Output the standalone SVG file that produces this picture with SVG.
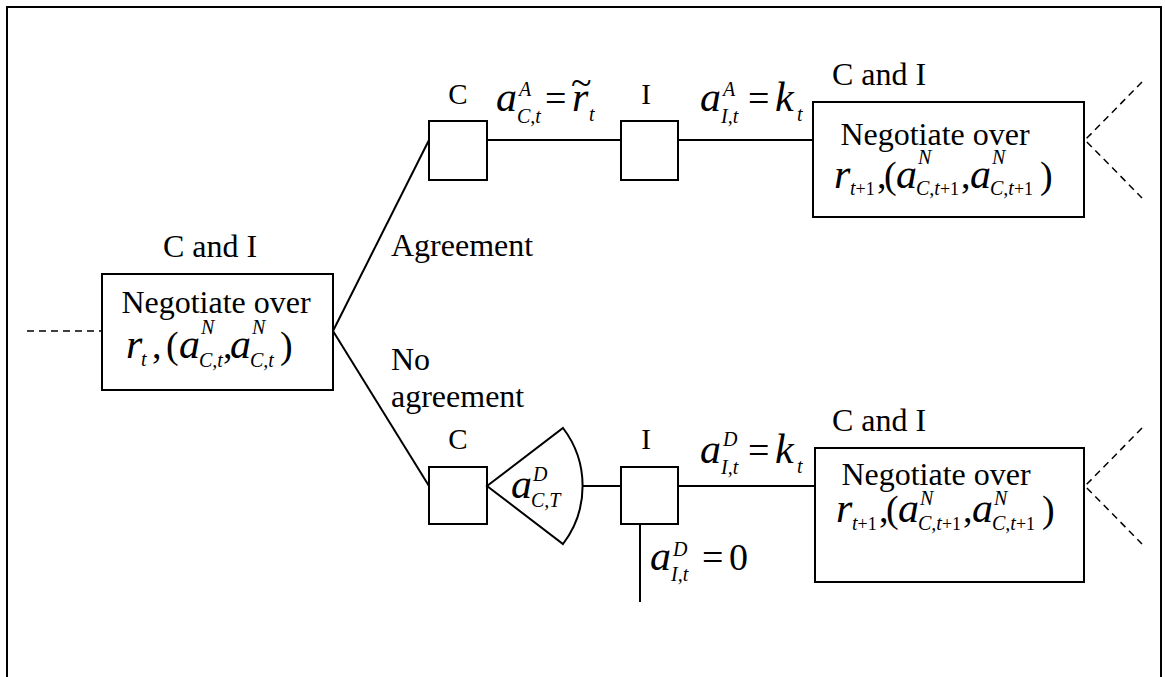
<svg xmlns="http://www.w3.org/2000/svg" width="1165" height="677" viewBox="0 0 1165 677">
<style>
.ln{stroke:#000;stroke-width:2;fill:none}
.bx{stroke:#000;stroke-width:2;fill:#fff}
.ds{stroke:#000;stroke-width:1.5;fill:none;stroke-dasharray:7 5}
text{font-family:"Liberation Serif","Times New Roman",serif;fill:#000}
.t{font-size:32px}
.lb{font-size:29px}
.m{font-size:42px;font-style:italic}
.mu{font-size:38px}
.s{font-size:20px;font-style:italic}
.su{font-size:18px}
</style>
<rect x="0" y="0" width="1165" height="677" fill="#fff"/>
<path class="ln" d="M7,677 V7 H1161 V677"/>

<g id="connectors">
<line class="ds" x1="27" y1="331" x2="102" y2="331"/>
<line class="ln" x1="333" y1="331" x2="429" y2="140"/>
<line class="ln" x1="333" y1="331" x2="429" y2="486"/>
<line class="ln" x1="487" y1="140" x2="621" y2="140"/>
<line class="ln" x1="678" y1="140" x2="813" y2="140"/>
<line class="ln" x1="583" y1="486" x2="621" y2="486"/>
<line class="ln" x1="678" y1="486" x2="815" y2="486"/>
<line class="ln" x1="640" y1="524" x2="640" y2="602"/>
<path class="ds" d="M1142,82 L1085,140 L1142,198"/>
<path class="ds" d="M1142,428 L1085,486 L1142,544"/>
</g>

<g id="node-start">
<rect class="bx" x="102" y="274" width="231" height="116"/>
<text class="t" x="210" y="257" text-anchor="middle">C and I</text>
<text class="t" x="216" y="313" text-anchor="middle">Negotiate over</text>
<text class="m" x="126" y="358">r</text>
<text class="s" x="141" y="366">t</text>
<text class="mu" x="152" y="358">,</text>
<text class="mu" x="166" y="358">(</text>
<text class="m" x="179" y="358">a</text>
<text class="s" x="201" y="334">N</text>
<text class="s" x="199" y="367">C,t</text>
<text class="mu" x="223" y="358">,</text>
<text class="m" x="230" y="358">a</text>
<text class="s" x="252" y="334">N</text>
<text class="s" x="250" y="367">C,t</text>
<text class="mu" x="280" y="358">)</text>
</g>

<g id="node-c-agree">
<rect class="bx" x="429" y="121" width="58" height="59"/>
<text class="lb" x="458" y="104" text-anchor="middle">C</text>
</g>

<g id="node-i-agree">
<rect class="bx" x="621" y="121" width="57" height="59"/>
<text class="lb" x="646" y="104" text-anchor="middle">I</text>
</g>

<g id="node-next-agree">
<rect class="bx" x="813" y="102" width="271" height="115"/>
<text class="t" x="879" y="85" text-anchor="middle">C and I</text>
<text class="t" x="935" y="145" text-anchor="middle">Negotiate over</text>
<text class="m" x="834" y="188">r</text>
<text x="850" y="195"><tspan class="s">t</tspan><tspan class="su">+1</tspan></text>
<text class="mu" x="877" y="188">,</text>
<text class="mu" x="884" y="188">(</text>
<text class="m" x="896" y="188">a</text>
<text class="s" x="918" y="164">N</text>
<text x="916" y="195"><tspan class="s">C,t</tspan><tspan class="su">+1</tspan></text>
<text class="mu" x="961" y="188">,</text>
<text class="m" x="970" y="188">a</text>
<text class="s" x="992" y="164">N</text>
<text x="990" y="195"><tspan class="s">C,t</tspan><tspan class="su">+1</tspan></text>
<text class="mu" x="1040" y="188">)</text>
</g>

<g id="node-c-noagree">
<rect class="bx" x="429" y="467" width="58" height="57"/>
<text class="lb" x="458" y="449" text-anchor="middle">C</text>
</g>

<g id="node-fan">
<path class="bx" d="M487,486 L563,428 A95.6,95.6 0 0 1 563,544 Z"/>
<text class="m" x="511" y="498">a</text>
<text class="s" x="533" y="481">D</text>
<text class="s" x="531" y="507">C,T</text>
</g>

<g id="node-i-noagree">
<rect class="bx" x="621" y="467" width="57" height="57"/>
<text class="lb" x="646" y="449" text-anchor="middle">I</text>
</g>

<g id="node-next-noagree">
<rect class="bx" x="815" y="448" width="269" height="134"/>
<text class="t" x="879" y="431" text-anchor="middle">C and I</text>
<text class="t" x="936" y="485" text-anchor="middle">Negotiate over</text>
<text class="m" x="836" y="522">r</text>
<text x="852" y="530"><tspan class="s">t</tspan><tspan class="su">+1</tspan></text>
<text class="mu" x="879" y="522">,</text>
<text class="mu" x="886" y="522">(</text>
<text class="m" x="898" y="522">a</text>
<text class="s" x="920" y="505">N</text>
<text x="918" y="530"><tspan class="s">C,t</tspan><tspan class="su">+1</tspan></text>
<text class="mu" x="963" y="522">,</text>
<text class="m" x="972" y="522">a</text>
<text class="s" x="994" y="505">N</text>
<text x="992" y="530"><tspan class="s">C,t</tspan><tspan class="su">+1</tspan></text>
<text class="mu" x="1042" y="522">)</text>
</g>

<g id="labels">
<text class="t" x="391" y="256">Agreement</text>
<text class="t" x="391" y="370">No</text>
<text class="t" x="391" y="407">agreement</text>

<text class="m" x="496" y="111">a</text>
<text class="s" x="519" y="96">A</text>
<text class="s" x="517" y="123">C,t</text>
<text class="mu" x="545" y="111">=</text>
<text class="m" x="572" y="111">r</text>
<text class="mu" x="571" y="95">~</text>
<text class="s" x="589" y="121">t</text>

<text class="m" x="700" y="111">a</text>
<text class="s" x="723" y="96">A</text>
<text class="s" x="721" y="123">I,t</text>
<text class="mu" x="748" y="111">=</text>
<text class="m" x="775" y="111">k</text>
<text class="s" x="797" y="121">t</text>

<text class="m" x="700" y="463">a</text>
<text class="s" x="723" y="446">D</text>
<text class="s" x="721" y="474">I,t</text>
<text class="mu" x="748" y="463">=</text>
<text class="m" x="775" y="463">k</text>
<text class="s" x="797" y="473">t</text>

<text class="m" x="650" y="570">a</text>
<text class="s" x="673" y="556">D</text>
<text class="s" x="671" y="581">I,t</text>
<text class="mu" x="702" y="570">=</text>
<text class="mu" x="729" y="570">0</text>
</g>
</svg>
